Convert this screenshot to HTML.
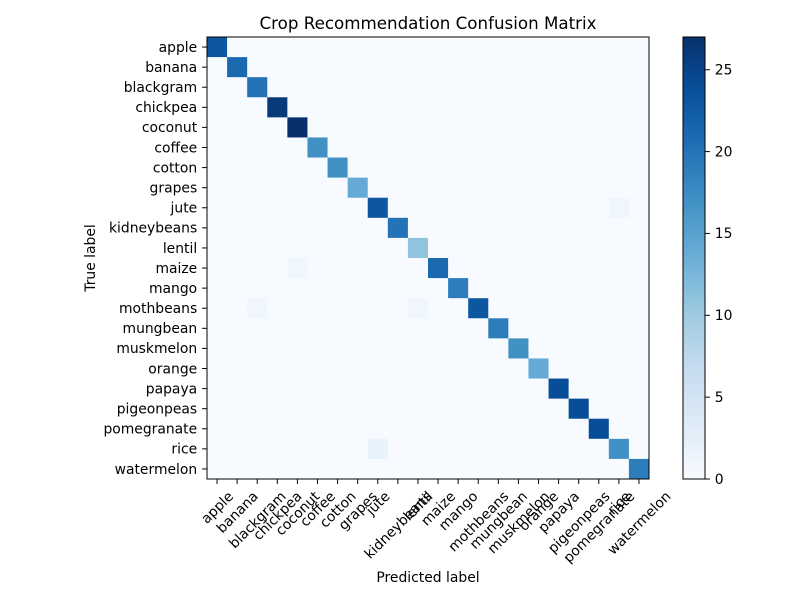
<!DOCTYPE html>
<html><head><meta charset="utf-8"><style>
body{margin:0;background:#fff;}
svg text{font-family:"DejaVu Sans","Liberation Sans",sans-serif;fill:#000;}
</style></head><body>
<svg id="chart" width="800" height="600" viewBox="0 0 800 600" xmlns="http://www.w3.org/2000/svg">
<rect width="800" height="600" fill="#fff"/>
<text x="428" y="29" font-size="16.7" text-anchor="middle">Crop Recommendation Confusion Matrix</text>
<g id="cells"></g>
<g id="yt"></g>
<g id="xt"></g>
<text x="428" y="582" font-size="13.9" text-anchor="middle">Predicted label</text>
<text transform="translate(95,258) rotate(-90)" font-size="13.9" text-anchor="middle">True label</text>
<defs><linearGradient id="cg" x1="0" y1="1" x2="0" y2="0"></linearGradient></defs>
<rect x="683" y="37" width="22" height="442" fill="url(#cg)" stroke="#000" stroke-width="1"/>
<g id="ct"></g>
</svg>
<script>
const labels=["apple","banana","blackgram","chickpea","coconut","coffee","cotton","grapes","jute","kidneybeans","lentil","maize","mango","mothbeans","mungbean","muskmelon","orange","papaya","pigeonpeas","pomegranate","rice","watermelon"];
const diagValues=[23,21,20,26,27,17,17,14,23,20,11,21,19,23,19,17,14,24,24,24,17,19];
const offDiagRows=[8,11,13,13,20];
const offDiagCols=[20,4,2,10,8];
const offDiagValues=[1,1,1,1,2];
const cbarTicks=[0,5,10,15,20,25];
const vmax=27;
const NS="http://www.w3.org/2000/svg";
const stops=["#f7fbff","#deebf7","#c6dbef","#9ecae1","#6baed6","#4292c6","#2171b5","#08519c","#08306b"];
function hx(c){return [1,3,5].map(i=>parseInt(c.substr(i,2),16));}
function color(v){let t=Math.max(0,Math.min(1,v/vmax))*(stops.length-1);let i=Math.min(Math.floor(t),stops.length-2);let f=t-i;let a=hx(stops[i]),b=hx(stops[i+1]);return "rgb("+a.map((x,k)=>Math.round(x+(b[k]-x)*f)).join(",")+")";}
const X0=207,Y0=37,W=442,H=442,n=labels.length,cw=W/n,ch=H/n;
const xS=j=>X0+j*cw, yS=i=>Y0+i*ch;
const M=labels.map(()=>labels.map(()=>0));
diagValues.forEach((v,i)=>M[i][i]=v);
offDiagValues.forEach((v,k)=>M[offDiagRows[k]][offDiagCols[k]]=v);
const cells=document.getElementById('cells');
for(let i=0;i<n;i++)for(let j=0;j<n;j++){const r=document.createElementNS(NS,'rect');r.setAttribute('x',xS(j));r.setAttribute('y',yS(i));r.setAttribute('width',cw+0.3);r.setAttribute('height',ch+0.3);r.setAttribute('fill',color(M[i][j]));


cells.appendChild(r);}
const frame=document.createElementNS(NS,'rect');frame.setAttribute('x',X0);frame.setAttribute('y',Y0);frame.setAttribute('width',W);frame.setAttribute('height',H);frame.setAttribute('fill','none');frame.setAttribute('stroke','#000');


cells.appendChild(frame);
const yt=document.getElementById('yt'),xt=document.getElementById('xt');
labels.forEach((l,i)=>{const y=yS(i)+ch/2;const tk=document.createElementNS(NS,'line');tk.setAttribute('x1',X0-4.9);tk.setAttribute('x2',X0);tk.setAttribute('y1',y);tk.setAttribute('y2',y);tk.setAttribute('stroke','#000');


yt.appendChild(tk);
const t=document.createElementNS(NS,'text');t.setAttribute('x',X0-9.8);t.setAttribute('y',y+4.8);t.setAttribute('font-size','13.9');t.setAttribute('text-anchor','end');t.textContent=l;


yt.appendChild(t);});
labels.forEach((l,j)=>{const x=xS(j)+cw/2;const tk=document.createElementNS(NS,'line');tk.setAttribute('x1',x);tk.setAttribute('x2',x);tk.setAttribute('y1',Y0+H);tk.setAttribute('y2',Y0+H+4.9);tk.setAttribute('stroke','#000');


xt.appendChild(tk);
const t=document.createElementNS(NS,'text');t.setAttribute('font-size','13.9');t.setAttribute('text-anchor','middle');t.textContent=l;


xt.appendChild(t);
const w=t.getComputedTextLength(),h=13.9;const ext=(w+h)*Math.SQRT1_2;const cy=Y0+H+9.8+ext/2;
t.setAttribute('transform','translate('+x+','+cy+') rotate(-45)');t.setAttribute('y',h*0.35);});
const g=document.getElementById('cg');
stops.forEach((s,k)=>{const st=document.createElementNS(NS,'stop');st.setAttribute('offset',k/(stops.length-1));st.setAttribute('stop-color',s);g.appendChild(st);});
const ct=document.getElementById('ct');
cbarTicks.forEach(v=>{const y=479-v/vmax*442;const tk=document.createElementNS(NS,'line');tk.setAttribute('x1',705);tk.setAttribute('x2',709.9);tk.setAttribute('y1',y);tk.setAttribute('y2',y);tk.setAttribute('stroke','#000');


ct.appendChild(tk);
const t=document.createElementNS(NS,'text');t.setAttribute('x',714.8);t.setAttribute('y',y+4.8);t.setAttribute('font-size','13.9');t.textContent=v;


ct.appendChild(t);});
</script>
</body></html>
